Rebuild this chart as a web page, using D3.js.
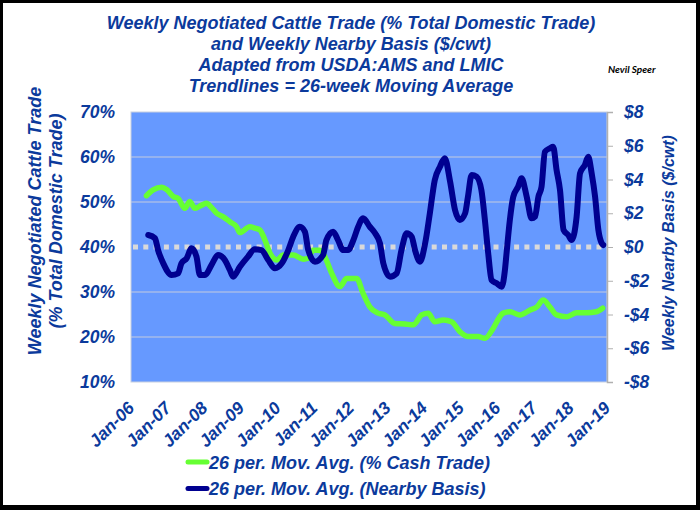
<!DOCTYPE html>
<html>
<head>
<meta charset="utf-8">
<script src="https://cdn.jsdelivr.net/npm/d3@7"></script>
<style>
  html, body { margin: 0; padding: 0; background: #000; }
  svg { display: block; }
  text { font-family: "Liberation Sans", Arial, sans-serif; font-weight: bold; font-style: italic; }
</style>
</head>
<body>
<svg id="chart" width="700" height="510"></svg>
<script>
// ---------- DATA ----------
const titleLines = [
  "Weekly Negotiated Cattle Trade (% Total Domestic Trade)",
  "and Weekly Nearby Basis ($/cwt)",
  "Adapted from USDA:AMS and LMIC",
  "Trendlines = 26-week Moving Average"
];
const author = "Nevil Speer";
const leftTitle = ["Weekly Negotiated Cattle Trade", "(% Total Domestic Trade)"];
const rightTitle = "Weekly Nearby Basis ($/cwt)";
const legendLabels = ["26 per. Mov. Avg. (% Cash Trade)", "26 per. Mov. Avg. (Nearby Basis)"];

const xTickYears = [2006,2007,2008,2009,2010,2011,2012,2013,2014,2015,2016,2017,2018,2019];
const leftTicks = [0.10,0.20,0.30,0.40,0.50,0.60,0.70];
const rightTicks = [-8,-6,-4,-2,0,2,4,6,8];
const gridTicks = [0.20,0.30,0.50,0.60];
const referenceValue = 0; // $0 basis (= 40% on left axis)

// % cash (negotiated) trade, 26-week moving average
const cashDates = ["2006-06-04","2006-08-10","2006-11-04","2006-12-22","2007-02-28","2007-04-16","2007-06-22","2007-08-10","2007-10-01","2007-12-07",
  "2008-01-25","2008-03-13","2008-05-04","2008-07-10","2008-09-13","2008-11-19","2008-12-22","2009-04-01","2009-05-19","2009-07-10",
  "2009-08-28","2009-10-19","2009-12-25","2010-02-28","2010-06-07","2010-09-16","2010-11-04","2010-12-22","2011-02-28","2011-04-19",
  "2011-06-25","2011-09-16","2011-11-22","2012-03-01","2012-05-04","2012-07-10","2012-10-01","2012-12-07","2013-03-16","2013-06-25",
  "2013-09-16","2013-12-10","2014-02-13","2014-04-19","2014-07-13","2014-10-04","2014-12-25","2015-03-16","2015-06-25","2015-09-01",
  "2015-11-22","2016-01-28","2016-03-01","2016-05-07","2016-08-16","2016-11-25","2017-02-01","2017-04-04","2017-06-10","2017-08-16",
  "2017-11-25","2018-03-04","2018-06-13","2018-09-19","2018-11-19"];
const cashPct = [51.4,52.7,53.3,52.8,51.2,50.8,48.6,50.1,48.6,49.3,
  49.7,48.8,47.5,46.7,45.6,44.5,43.2,44.5,44.2,43.8,
  41.6,38.6,37.1,38.2,38.2,37.3,37.5,39.3,39.3,37.8,
  34.2,31.2,33.0,33.0,29.7,26.7,25.3,24.9,23.0,22.9,
  22.7,24.9,25.3,23.4,23.8,23.4,21.2,20.1,20.1,19.7,
  21.9,24.5,25.3,25.6,24.9,26.0,26.7,28.2,26.7,24.9,
  24.5,25.4,25.4,25.6,26.4];

// Nearby basis ($/cwt), 26-week moving average
const basisDates = ["2006-06-22","2006-08-28","2006-09-28","2006-11-19","2007-02-10","2007-04-16","2007-05-19","2007-07-10","2007-08-28","2007-10-16",
  "2007-11-19","2008-01-10","2008-03-13","2008-05-19","2008-07-25","2008-09-13","2008-10-16","2008-12-22","2009-03-13","2009-05-19",
  "2009-07-25","2009-10-01","2009-12-07","2010-02-13","2010-04-19","2010-06-07","2010-08-13","2010-10-01","2010-11-04","2011-01-10",
  "2011-04-01","2011-05-04","2011-07-10","2011-08-28","2011-10-19","2011-12-07","2012-01-28","2012-03-16","2012-05-04","2012-07-10",
  "2012-09-01","2012-10-19","2012-11-22","2013-01-28","2013-04-04","2013-05-22","2013-07-13","2013-09-01","2013-10-04","2013-11-22",
  "2014-01-13","2014-03-01","2014-04-19","2014-06-10","2014-07-28","2014-09-19","2014-11-07","2014-12-25","2015-02-16","2015-03-16",
  "2015-04-22","2015-06-10","2015-07-28","2015-09-01","2015-10-04","2015-11-07","2015-12-28","2016-02-16","2016-03-19","2016-04-04",
  "2016-05-07","2016-06-10","2016-07-28","2016-09-01","2016-10-22","2016-12-10","2017-01-13","2017-02-16","2017-03-19","2017-04-22",
  "2017-06-10","2017-07-13","2017-08-16","2017-09-19","2017-10-25","2017-12-10","2018-01-13","2018-03-04","2018-04-07","2018-05-25",
  "2018-06-28","2018-08-01","2018-09-04","2018-10-07","2018-11-10","2018-11-25"];
const basisValue = [0.71,0.52,-0.18,-0.97,-1.66,-1.56,-0.97,-0.67,-0.08,-0.57,
  -1.66,-1.66,-1.07,-0.47,-0.77,-1.36,-1.76,-1.17,-0.57,-0.13,
  -0.18,-0.77,-1.26,-0.97,-0.18,0.61,1.20,0.91,-0.18,-0.87,
  -0.47,0.41,0.91,0.41,-0.18,-0.18,0.41,1.20,1.70,1.20,
  0.81,0.22,-0.97,-1.76,-1.56,-0.18,0.81,0.61,-0.18,-0.87,
  0.22,2.00,3.97,4.76,5.26,3.87,2.19,1.60,2.00,2.98,
  4.27,4.17,3.38,1.60,-0.37,-1.96,-2.15,-2.35,-1.36,-0.37,
  1.60,2.98,3.57,4.07,2.98,1.70,1.80,2.98,3.57,5.65,
  5.85,5.94,4.56,3.38,1.01,0.71,0.41,1.80,4.37,4.86,
  5.35,4.37,2.98,1.01,0.22,0.12];

// ---------- STYLE ----------
const W = 700, H = 510;
const plot = { left: 131, right: 607, top: 112, bottom: 382 };
const textBlue = "#0B3A9C";
const greenColor = "#66FF33";
const navyColor = "#000090";
const plotBg = "#6699FF";
const FONT = "'Liberation Sans', Arial, sans-serif";

const parse = d3.timeParse("%Y-%m-%d");
const svg = d3.select("#chart");

// frame
svg.append("rect").attr("x", 3).attr("y", 3).attr("width", W - 7).attr("height", H - 8).attr("fill", "#ffffff");

const x = d3.scaleTime()
  .domain([new Date(2006, 0, 1), new Date(2019, 0, 1)])
  .range([plot.left, plot.right]);
const yL = d3.scaleLinear().domain([0.10, 0.70]).range([plot.bottom, plot.top]);
const yR = d3.scaleLinear().domain([-8, 8]).range([plot.bottom, plot.top]);

// plot background
svg.append("rect")
  .attr("x", plot.left).attr("y", plot.top)
  .attr("width", plot.right - plot.left).attr("height", plot.bottom - plot.top)
  .attr("fill", plotBg).attr("stroke", "#C8D0E0").attr("stroke-width", 1);

// gridlines
svg.append("g").selectAll("line").data(gridTicks).join("line")
  .attr("x1", plot.left).attr("x2", plot.right)
  .attr("y1", d => yL(d)).attr("y2", d => yL(d))
  .attr("stroke", "#C4CCE0").attr("stroke-width", 1.2);

// reference dashed line at $0
svg.append("line")
  .attr("x1", plot.left + 2).attr("x2", plot.right)
  .attr("y1", yR(referenceValue)).attr("y2", yR(referenceValue))
  .attr("stroke", "#D9D9D9").attr("stroke-width", 5)
  .attr("stroke-dasharray", "5,5.3");

// series
const cashData = cashDates.map((d, i) => ({ date: parse(d), v: cashPct[i] / 100 }));
const basisData = basisDates.map((d, i) => ({ date: parse(d), v: basisValue[i] }));

svg.append("path").datum(cashData)
  .attr("fill", "none").attr("stroke", greenColor).attr("stroke-width", 5.5)
  .attr("stroke-linejoin", "round").attr("stroke-linecap", "round")
  .attr("d", d3.line().x(d => x(d.date)).y(d => yL(d.v)).curve(d3.curveMonotoneX));

svg.append("path").datum(basisData)
  .attr("fill", "none").attr("stroke", navyColor).attr("stroke-width", 6)
  .attr("stroke-linejoin", "round").attr("stroke-linecap", "round")
  .attr("d", d3.line().x(d => x(d.date)).y(d => yR(d.v)).curve(d3.curveMonotoneX));

function styleText(sel, size) {
  sel.attr("fill", textBlue).style("font-size", size + "px")
    .style("font-family", FONT).style("font-weight", "bold").style("font-style", "italic");
}

// left axis
const gL = svg.append("g").attr("transform", `translate(${plot.left},0)`)
  .call(d3.axisLeft(yL).tickValues(leftTicks).tickFormat(d3.format(".0%")).tickSize(0).tickPadding(16));
gL.select(".domain").remove();
styleText(gL.selectAll("text"), 17.5);

// right axis
const gR = svg.append("g").attr("transform", `translate(${plot.right},0)`)
  .call(d3.axisRight(yR).tickValues(rightTicks)
    .tickFormat(v => (v < 0 ? "-" : "") + "$" + Math.abs(v)).tickSize(6).tickPadding(11));
gR.select(".domain").attr("stroke", "#B0B0B0").attr("stroke-width", 1.5);
gR.selectAll(".tick line").attr("stroke", "#B0B0B0");
styleText(gR.selectAll("text"), 17.5);

// x axis
const gX = svg.append("g").attr("transform", `translate(0,${plot.bottom})`)
  .call(d3.axisBottom(x).tickValues(xTickYears.map(yv => new Date(yv, 0, 1)))
    .tickFormat(d3.timeFormat("Jan-%y")).tickSize(0));
gX.select(".domain").remove();
styleText(gX.selectAll("text"), 17.5);
gX.selectAll("text")
  .attr("text-anchor", "end").attr("dy", null).attr("y", null)
  .attr("transform", "translate(4,27) rotate(-45)");

// title
const gT = svg.append("g");
gT.selectAll("text").data(titleLines).join("text")
  .attr("x", 351).attr("y", (d, i) => 28.5 + i * 21.3)
  .attr("text-anchor", "middle").text(d => d);
styleText(gT.selectAll("text"), 18);

svg.append("text").attr("x", 608).attr("y", 73)
  .attr("fill", "#000").style("font-size", "10px")
  .style("font-family", "Lato, 'Open Sans', sans-serif").text(author);

// left axis title
const gLT = svg.append("g");
gLT.selectAll("text").data(leftTitle).join("text")
  .attr("transform", (d, i) => `translate(${41 + i * 21},221) rotate(-90)`)
  .attr("text-anchor", "middle").text(d => d);
styleText(gLT.selectAll("text"), 18);

// right axis title
const rt = svg.append("text")
  .attr("transform", `translate(674,243) rotate(-90)`)
  .attr("text-anchor", "middle").text(rightTitle);
styleText(rt, 16);

// legend
const legend = svg.append("g");
[greenColor, navyColor].forEach((c, i) => {
  const ly = 462 + i * 26.5;
  legend.append("line").attr("x1", 188).attr("x2", 207).attr("y1", ly).attr("y2", ly)
    .attr("stroke", c).attr("stroke-width", 5).attr("stroke-linecap", "round");
  const t = legend.append("text").attr("x", 209).attr("y", ly + 6.5).text(legendLabels[i]);
  styleText(t, 18);
});
</script>
</body>
</html>
